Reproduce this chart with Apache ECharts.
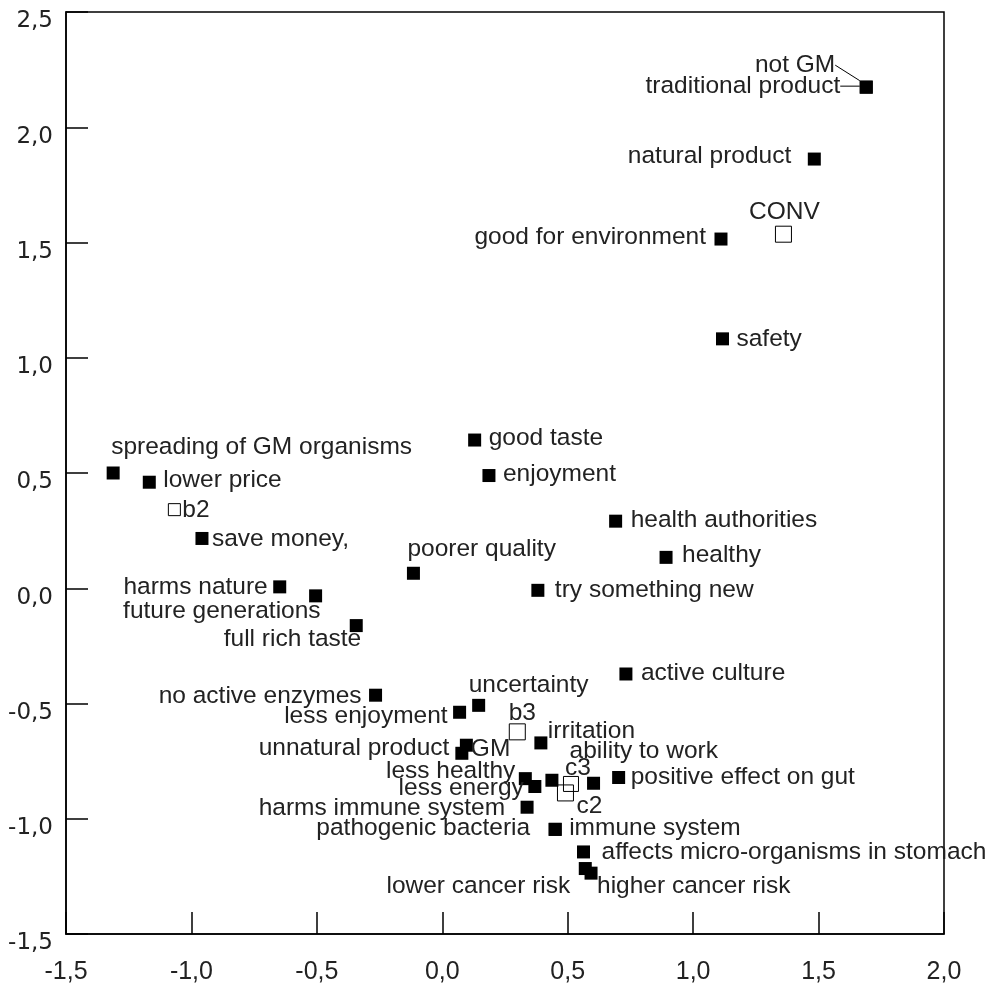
<!DOCTYPE html>
<html>
<head>
<meta charset="utf-8">
<script src="https://cdn.jsdelivr.net/npm/echarts@6/dist/echarts.min.js"></script>
<style>
html,body{margin:0;padding:0;background:#fff;}
#chart{width:992px;height:985px;}
</style>
</head>
<body>
<div id="chart"></div>
<script>
// ---- data ----
const attrNames = [
  'not GM', 'traditional product', 'natural product', 'good for environment', 'safety',
  'spreading of GM organisms', 'lower price', 'save money,', 'harms nature', 'future generations',
  'full rich taste', 'poorer quality', 'good taste', 'enjoyment', 'health authorities',
  'healthy', 'try something new', 'active culture', 'no active enzymes', 'uncertainty',
  'less enjoyment', 'unnatural product', 'GM', 'irritation', 'less healthy',
  'less energy', '', 'ability to work', 'positive effect on gut', 'harms immune system',
  'pathogenic bacteria', 'immune system', 'affects micro-organisms in stomach', 'lower cancer risk', 'higher cancer risk'
];
const attrX = [
  1.690, 1.690, 1.483, 1.111, 1.117,
  -1.312, -1.168, -0.958, -0.648, -0.505,
  -0.343, -0.115, 0.129, 0.186, 0.691,
  0.892, 0.381, 0.732, -0.266, 0.145,
  0.069, 0.096, 0.078, 0.393, 0.331,
  0.369, 0.437, 0.603, 0.703, 0.338,
  0.450, 0.450, 0.563, 0.570, 0.593
];
const attrY = [
  2.174, 2.174, 1.862, 1.515, 1.082,
  0.500, 0.460, 0.216, 0.006, -0.033,
  -0.162, 0.065, 0.643, 0.489, 0.291,
  0.134, -0.009, -0.372, -0.464, -0.508,
  -0.538, -0.681, -0.716, -0.671, -0.826,
  -0.860, -0.833, -0.846, -0.821, -0.950,
  -1.046, -1.046, -1.144, -1.216, -1.236
];
const groupNames = ['CONV', 'b2', 'b3', 'c3', 'c2'];
const groupX = [1.360, -1.068, 0.299, 0.513, 0.491];
const groupY = [1.536, 0.341, -0.623, -0.849, -0.888];
const xRange = [-1.5, 2.0];
const yRange = [-1.5, 2.5];
const tickStep = 0.5;

// ---- label placement (layout only): [align, dx, dy] from marker centre ----
const attrLabelPlace = {
  'not GM': ['right', -31, -22],
  'traditional product': ['right', -26, -1],
  'natural product': ['right', -23, -3],
  'good for environment': ['right', -15, -2],
  'safety': ['left', 14, 0],
  'spreading of GM organisms': ['left', -2, -26],
  'lower price': ['left', 14, -2],
  'save money,': ['left', 10, 1],
  'harms nature': ['right', -12, 0],
  'future generations': ['right', 5, 15],
  'full rich taste': ['right', 5, 14],
  'poorer quality': ['left', -6, -24],
  'good taste': ['left', 14, -2],
  'enjoyment': ['left', 14, -1],
  'health authorities': ['left', 15, -1],
  'healthy': ['left', 16, -2],
  'try something new': ['left', 17, 0],
  'active culture': ['left', 15, -1],
  'no active enzymes': ['right', -14, 1],
  'uncertainty': ['left', -10, -20],
  'less enjoyment': ['right', -12, 4],
  'unnatural product': ['right', -17, 3],
  'GM': ['left', 9, -4],
  'irritation': ['left', 7, -12],
  'less healthy': ['right', -10, -7],
  'less energy': ['right', -11, 2],
  'ability to work': ['left', -24, -32],
  'positive effect on gut': ['left', 12, 0],
  'harms immune system': ['right', -22, 1],
  'pathogenic bacteria': ['right', -25, -1],
  'immune system': ['left', 14, -1],
  'affects micro-organisms in stomach': ['left', 18, 0],
  'lower cancer risk': ['right', -15, 18],
  'higher cancer risk': ['left', 6, 13]
};
const groupLabelPlace = {
  'CONV': ['center', 1, -22],
  'b2': ['left', 8, 1],
  'b3': ['center', 5, -19],
  'c3': ['center', 7, -16],
  'c2': ['left', 11, 13]
};
const groupSymbolSize = {'CONV': 16, 'b2': 12, 'b3': 16, 'c3': 15, 'c2': 16};
const leaderLabels = ['not GM', 'traditional product'];

const FONT = '"Liberation Sans", Arial, Helvetica, sans-serif';
const YFONT = '"DejaVu Sans", Verdana, sans-serif';
const TEXT = '#222';

function makeLabel(place) {
  if (!place) return { show: false };
  return {
    show: true,
    formatter: '{b}',
    position: ['50%', '50%'],
    align: place[0],
    verticalAlign: 'middle',
    offset: [place[1], place[2]],
    fontSize: 24.5,
    fontFamily: FONT,
    color: TEXT
  };
}

const attrData = attrNames.map((n, i) => {
  const item = { name: n, value: [attrX[i], attrY[i]], label: makeLabel(attrLabelPlace[n]) };
  if (leaderLabels.indexOf(n) >= 0) {
    item.labelLine = { show: true, lineStyle: { color: '#000', width: 1 } };
  }
  return item;
});
const groupData = groupNames.map((n, i) => ({
  name: n,
  value: [groupX[i], groupY[i]],
  symbolSize: groupSymbolSize[n],
  label: makeLabel(groupLabelPlace[n])
}));

function fmt(v) { return (Math.abs(v) < 1e-9 ? 0 : v).toFixed(1).replace('.', ','); }

const chart = echarts.init(document.getElementById('chart'), null, { renderer: 'canvas' });
chart.setOption({
  animation: false,
  backgroundColor: '#fff',
  grid: { left: 66, right: 48, top: 12, bottom: 51, containLabel: false, outerBoundsMode: 'none',
          show: true, borderColor: '#000', borderWidth: 1.5, backgroundColor: 'transparent' },
  xAxis: {
    type: 'value',
    min: xRange[0], max: xRange[1], interval: tickStep,
    axisLine: { show: true, onZero: false, lineStyle: { color: '#000', width: 1.5 } },
    axisTick: { show: true, inside: true, length: 22, lineStyle: { color: '#000', width: 1.5 } },
    splitLine: { show: false },
    axisLabel: { show: true, inside: false, margin: 26, fontSize: 25, fontFamily: FONT, color: TEXT,
                 formatter: fmt, showMinLabel: true, showMaxLabel: true }
  },
  yAxis: {
    type: 'value',
    min: yRange[0], max: yRange[1], interval: tickStep,
    axisLine: { show: true, onZero: false, lineStyle: { color: '#000', width: 1.5 } },
    axisTick: { show: true, inside: true, length: 22, lineStyle: { color: '#000', width: 1.5 } },
    splitLine: { show: false },
    axisLabel: { show: true, inside: false, margin: 13, fontSize: 23, fontFamily: YFONT, color: TEXT,
                 formatter: fmt, showMinLabel: true, showMaxLabel: true,
                 verticalAlign: 'top', lineHeight: 19 }
  },
  series: [
    {
      type: 'scatter',
      name: 'attributes',
      symbol: 'rect',
      symbolSize: 13,
      itemStyle: { color: '#000', opacity: 1 },
      emphasis: { disabled: true },
      clip: false,
      data: attrData
    },
    {
      type: 'scatter',
      name: 'groups',
      symbol: 'rect',
      itemStyle: { color: 'rgba(0,0,0,0)', borderColor: '#000', borderWidth: 1, opacity: 1 },
      emphasis: { disabled: true },
      clip: false,
      data: groupData
    }
  ]
});
</script>
</body>
</html>
